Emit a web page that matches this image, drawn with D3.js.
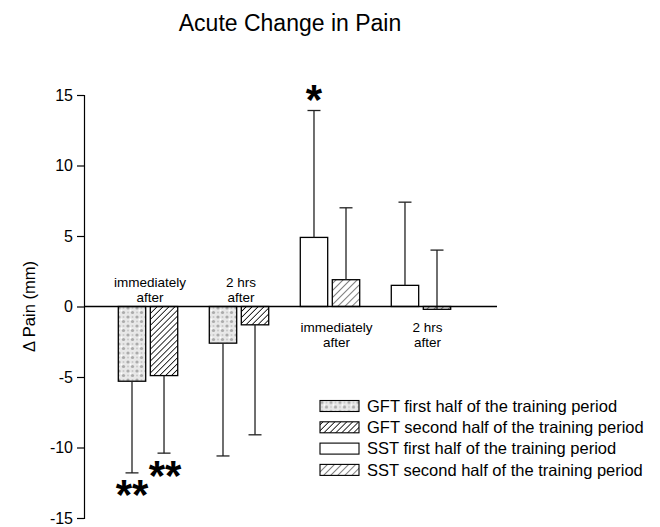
<!DOCTYPE html>
<html>
<head>
<meta charset="utf-8">
<script src="https://cdn.jsdelivr.net/npm/d3@7"></script>
<style>
  body { margin: 0; background: #fff; }
  svg { font-family: "Liberation Sans", Arial, sans-serif; }
</style>
</head>
<body>
<svg id="chart" width="660" height="527"></svg>
<script>
// ---- data ----
const groups = ["GFT immediately after", "GFT 2 hrs after", "SST immediately after", "SST 2 hrs after"];
const groupLabels = [["immediately", "after"], ["2 hrs", "after"], ["immediately", "after"], ["2 hrs", "after"]];
const firstHalf = [-5.3, -2.6, 4.9, 1.5];
const secondHalf = [-4.9, -1.3, 1.9, -0.2];
const firstHalfErrEnd = [-11.8, -10.6, 13.9, 7.4];
const secondHalfErrEnd = [-10.4, -9.1, 7.0, 4.0];
const yTicks = [15, 10, 5, 0, -5, -10, -15];
const legendLabels = [
  "GFT first half of the training period",
  "GFT second half of the training period",
  "SST first half of the training period",
  "SST second half of the training period"
];
const title = "Acute Change in Pain";
const yLabel = "\u0394 Pain (mm)";

const svg = d3.select("#chart");

// patterns
const defs = svg.append("defs");
const stip = defs.append("pattern").attr("id", "stip").attr("patternUnits", "userSpaceOnUse")
  .attr("width", 9).attr("height", 9);
stip.append("rect").attr("width", 9).attr("height", 9).attr("fill", "#e8e8e8");
[[2,2],[6.5,6.5],[2,6.5],[6.5,2]].forEach(([cx,cy],i)=>{
  stip.append("circle").attr("cx", cx).attr("cy", cy).attr("r", i<2 ? 1.6 : 1.0)
    .attr("fill", i<2 ? "#ababab" : "#c8c8c8");
});
stip.append("circle").attr("cx", 4.5).attr("cy", 4.5).attr("r", 0.9).attr("fill", "#fff");

function hatch(id, spacing, sw) {
  const p = defs.append("pattern").attr("id", id).attr("patternUnits", "userSpaceOnUse")
    .attr("width", spacing).attr("height", spacing).attr("patternTransform", "rotate(45)");
  p.append("rect").attr("width", spacing).attr("height", spacing).attr("fill", "#fff");
  p.append("line").attr("x1", 0).attr("y1", 0).attr("x2", 0).attr("y2", spacing)
    .attr("stroke", "#000").attr("stroke-width", sw);
}
hatch("hatchDense", 4.2, 1.6);
hatch("hatchSparse", 5, 1.0);

const fills = {
  "GFT": ["url(#stip)", "url(#hatchDense)"],
  "SST": ["#fff", "url(#hatchSparse)"]
};

// scales
const y = d3.scaleLinear().domain([-15, 15]).range([518, 95]);
const x0 = d3.scaleBand().domain(groups).range([118.3, 450.7]).paddingInner(0.347).paddingOuter(0);
const x1 = d3.scaleBand().domain([0, 1]).range([0, x0.bandwidth()]).paddingInner(0.144);

// title
svg.append("text").attr("x", 290).attr("y", 31).attr("text-anchor", "middle")
  .attr("font-size", 23).text(title);

// y axis
const axisX = 84;
const yAxis = svg.append("g").attr("transform", `translate(${axisX},0)`)
  .call(d3.axisLeft(y).tickValues(yTicks).tickSize(7).tickPadding(4).tickFormat(d3.format("d")));
yAxis.select(".domain").attr("stroke", "#000").attr("stroke-width", 1.2);
yAxis.selectAll(".tick line").attr("stroke", "#000").attr("stroke-width", 1.2);
yAxis.selectAll(".tick text").attr("font-size", 16).attr("fill", "#000")
  .attr("font-family", "Liberation Sans, Arial, sans-serif").text(d => d < 0 ? "-" + Math.abs(d) : d);

svg.append("text").attr("transform", `translate(35,${y(0)}) rotate(-90)`)
  .attr("text-anchor", "middle").attr("font-size", 16.5).text(yLabel);

// bars
const rows = [];
groups.forEach((g, i) => {
  const kind = g.slice(0, 3);
  rows.push({ g, i, s: 0, v: firstHalf[i], e: firstHalfErrEnd[i], fill: fills[kind][0] });
  rows.push({ g, i, s: 1, v: secondHalf[i], e: secondHalfErrEnd[i], fill: fills[kind][1] });
});

svg.append("g").selectAll("rect.bar").data(rows).join("rect").attr("class", "bar")
  .attr("x", d => x0(d.g) + x1(d.s))
  .attr("width", x1.bandwidth())
  .attr("y", d => Math.min(y(d.v), y(0)))
  .attr("height", d => Math.abs(y(d.v) - y(0)))
  .attr("fill", d => d.fill)
  .attr("stroke", "#000").attr("stroke-width", 1.3);

const eb = svg.append("g").attr("stroke", "#222").attr("stroke-width", 1.3);
eb.selectAll("line.v").data(rows).join("line").attr("class", "v")
  .attr("x1", d => x0(d.g) + x1(d.s) + x1.bandwidth() / 2)
  .attr("x2", d => x0(d.g) + x1(d.s) + x1.bandwidth() / 2)
  .attr("y1", d => y(d.v)).attr("y2", d => y(d.e));
eb.selectAll("line.c").data(rows).join("line").attr("class", "c")
  .attr("x1", d => x0(d.g) + x1(d.s) + x1.bandwidth() / 2 - 6.5)
  .attr("x2", d => x0(d.g) + x1(d.s) + x1.bandwidth() / 2 + 6.5)
  .attr("y1", d => y(d.e)).attr("y2", d => y(d.e));

// zero line
svg.append("line").attr("x1", axisX).attr("x2", 497).attr("y1", y(0)).attr("y2", y(0))
  .attr("stroke", "#000").attr("stroke-width", 1.3);

// group labels
groups.forEach((g, i) => {
  const above = firstHalf[i] < 0;
  const cx = x0(g) + x0.bandwidth() / 2 + (above ? 2 : 6.5);
  const base = above ? y(0) - 20 : y(0) + 25;
  groupLabels[i].forEach((t, k) => {
    svg.append("text").attr("x", cx).attr("y", base + k * 15)
      .attr("text-anchor", "middle").attr("font-size", 13.5).text(t);
  });
});

// significance markers
const starSize = 42;
const cxBar = (i, s) => x0(groups[i]) + x1(s) + x1.bandwidth() / 2;
svg.append("text").attr("x", cxBar(2, 0)).attr("y", y(firstHalfErrEnd[2]) - 16 + 0.47 * starSize)
  .attr("text-anchor", "middle").attr("font-size", starSize).attr("font-weight", "bold").text("*");
svg.append("text").attr("x", cxBar(0, 0)).attr("y", y(firstHalfErrEnd[0]) + 16 + 0.47 * starSize)
  .attr("text-anchor", "middle").attr("font-size", starSize).attr("font-weight", "bold").text("**");
svg.append("text").attr("x", cxBar(0, 1) + 1).attr("y", y(secondHalfErrEnd[0]) + 17 + 0.47 * starSize)
  .attr("text-anchor", "middle").attr("font-size", starSize).attr("font-weight", "bold").text("**");

// legend
const legendFills = ["url(#stip)", "url(#hatchDense)", "#fff", "url(#hatchSparse)"];
const lg = svg.append("g").attr("transform", "translate(320,400.5)");
legendLabels.forEach((t, k) => {
  lg.append("rect").attr("x", 0).attr("y", k * 21.3).attr("width", 39).attr("height", 11)
    .attr("fill", legendFills[k]).attr("stroke", "#000").attr("stroke-width", 1.1);
  lg.append("text").attr("x", 47).attr("y", k * 21.3 + 11.3).attr("font-size", 16.5).text(t);
});
</script>
</body>
</html>
